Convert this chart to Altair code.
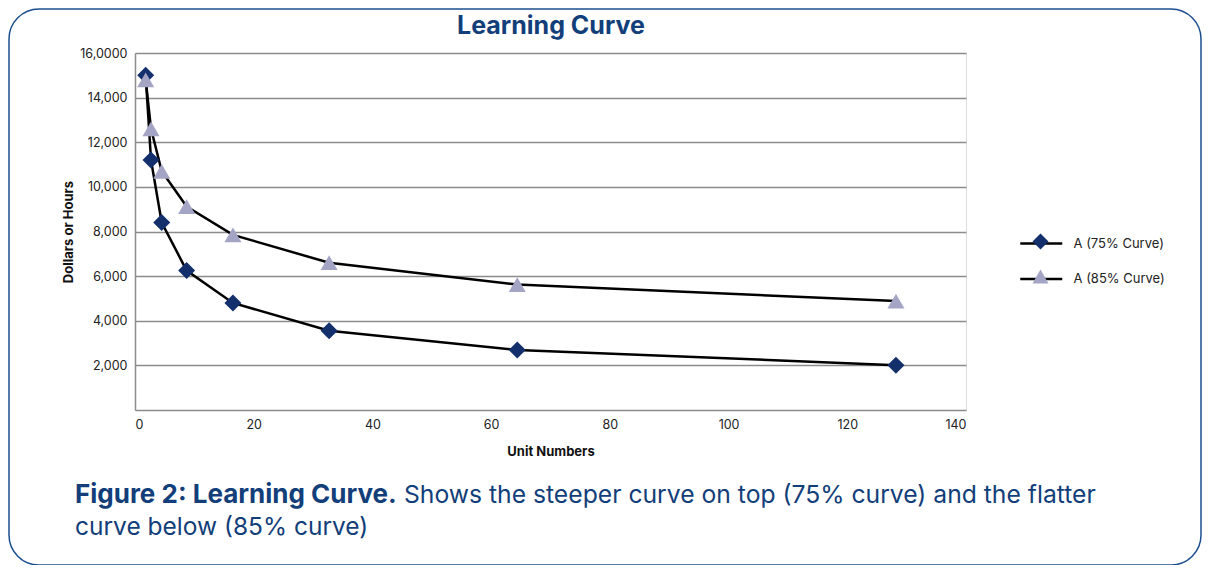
import altair as alt
import pandas as pd

# ---- data ----
units = [1.8, 2.7, 4.5, 8.7, 16.5, 32.7, 64.4, 128.2]
curve75 = [15000, 11200, 8400, 6250, 4800, 3550, 2690, 2010]
curve85 = [14800, 12600, 10700, 9120, 7850, 6600, 5620, 4880]
series_names = ["A (75% Curve)", "A (85% Curve)"]
y_ticks = [2000, 4000, 6000, 8000, 10000, 12000, 14000, 16000]
x_ticks = [0, 20, 40, 60, 80, 100, 120, 140]
chart_title = "Learning Curve"
x_title = "Unit Numbers"
y_title = "Dollars or Hours"
caption_bold = "Figure 2: Learning Curve."
caption_line1 = "Shows the steeper curve on top (75% curve) and the flatter"
caption_line2 = "curve below (85% curve)"

rows = []
for u, v in zip(units, curve75):
    rows.append({"unit": u, "value": v, "series": series_names[0]})
for u, v in zip(units, curve85):
    rows.append({"unit": u, "value": v, "series": series_names[1]})
df = pd.DataFrame(rows)

W, H = 831, 357
NAVY = "#123e7a"
FONT = "Inter"
GRID = "#8c8c8c"

x = alt.X(
    "unit:Q",
    scale=alt.Scale(domain=[0, 140], nice=False),
    axis=alt.Axis(
        values=x_ticks, title=x_title, grid=False, ticks=False,
        domainColor=GRID, domainWidth=1.5, labelPadding=8,
        labelFontSize=12.5, labelColor="#222222", labelFont=FONT,
        titleFont=FONT, titleFontSize=13, titleFontWeight="bold",
        titleColor="#111111", titleY=41, titleBaseline="middle",
    ),
)
y = alt.Y(
    "value:Q",
    scale=alt.Scale(domain=[0, 16000], nice=False),
    axis=alt.Axis(
        values=y_ticks, title=y_title, grid=True, gridColor=GRID,
        gridWidth=1.3, ticks=False, domainColor=GRID, domainWidth=1.5,
        labelPadding=8, labelFontSize=12.5, labelColor="#222222",
        labelFont=FONT,
        labelExpr="datum.value == 16000 ? '16,0000' : format(datum.value, ',')",
        titleFont=FONT, titleFontSize=13, titleFontWeight="bold",
        titleColor="#111111", titleX=-67, titleY=H / 2, titleAngle=-90,
        titleBaseline="middle", titleAlign="center",
    ),
)

legend_lines = alt.Legend(
    title=None, orient="none", legendX=894.25, legendY=178.5,
    symbolType="M-2,0H2", symbolSize=441, symbolStrokeWidth=2.5,
    labelOffset=20.25, rowPadding=16.5, padding=0,
    labelFont=FONT, labelFontSize=13, labelColor="#222222",
)
legend_marks = alt.Legend(
    title=None, orient="none", legendX=897.5, legendY=180.5,
    symbolStrokeWidth=0, symbolSize=256, rowPadding=19, padding=0,
    labelFont=FONT, labelFontSize=10, labelExpr="''",
)

lines = (
    alt.Chart(df)
    .transform_calculate(curve="datum.series")
    .mark_line(strokeWidth=2.5)
    .encode(
        x=x, y=y,
        stroke=alt.Stroke("curve:N", scale=alt.Scale(range=["#000000", "#000000"]),
                          legend=legend_lines),
    )
)

points = (
    alt.Chart(df)
    .mark_point(filled=True, size=290, opacity=1, strokeWidth=0)
    .encode(
        x=x, y=y,
        shape=alt.Shape("series:N", scale=alt.Scale(range=["diamond", "triangle-up"]),
                        legend=legend_marks),
        fill=alt.Fill("series:N", scale=alt.Scale(range=["#13306c", "#a4a4c4"]),
                      legend=legend_marks),
    )
)

one = pd.DataFrame({"k": [0]})
border = alt.Chart(one).mark_rect(
    filled=False, stroke="#1d4f8f", strokeWidth=1.5, cornerRadius=30
).encode(x=alt.value(-126), x2=alt.value(1066), y=alt.value(-44), y2=alt.value(512))

title_mark = alt.Chart(one).mark_text(
    font=FONT, fontSize=25, fontWeight="bold", color=NAVY, align="center", baseline="alphabetic"
).encode(x=alt.value(416), y=alt.value(-19), text=alt.value(chart_title))

cap_bold = alt.Chart(one).mark_text(
    font=FONT, fontSize=26, fontWeight="bold", color=NAVY, align="left", baseline="alphabetic"
).encode(x=alt.value(-60), y=alt.value(450), text=alt.value(caption_bold))
cap_l1 = alt.Chart(one).mark_text(
    font=FONT, fontSize=24.7, color=NAVY, align="left", baseline="alphabetic"
).encode(x=alt.value(269), y=alt.value(450), text=alt.value(caption_line1))
cap_l2 = alt.Chart(one).mark_text(
    font=FONT, fontSize=24.5, color=NAVY, align="left", baseline="alphabetic"
).encode(x=alt.value(-60), y=alt.value(482), text=alt.value(caption_line2))

chart = (
    alt.layer(border, lines, points, title_mark, cap_bold, cap_l1, cap_l2)
    .resolve_scale(x="shared", y="shared")
    .properties(
        width=W, height=H,
        autosize=alt.AutoSizeParams(type="none"),
        padding={"left": 127, "top": 45, "right": 236, "bottom": 155},
    )
    .configure_view(strokeWidth=0)
    .configure(background="white")
)

chart.save("out.html", embed_options={"renderer": "svg", "actions": False})
